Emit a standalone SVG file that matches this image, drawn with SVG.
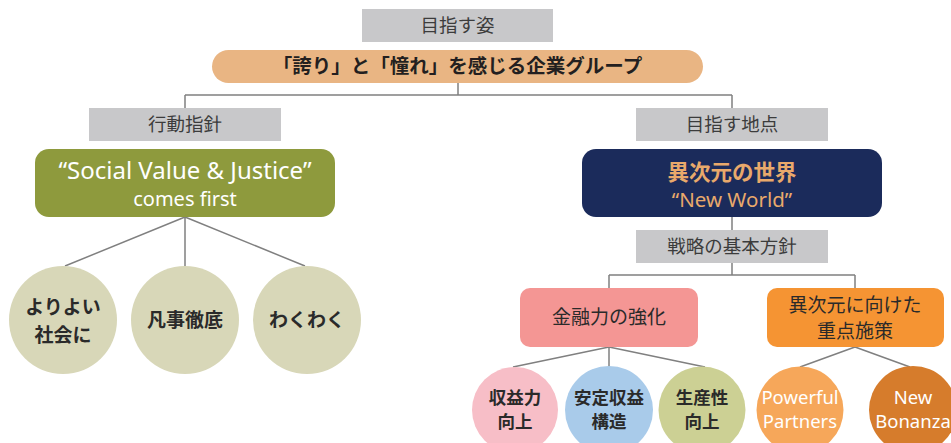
<svg xmlns="http://www.w3.org/2000/svg" width="951" height="443" viewBox="0 0 951 443">
<style>
.jp{font-family:"Noto Sans CJK JP","Noto Sans",sans-serif}
.lat{font-family:"Noto Sans","Noto Sans CJK JP",sans-serif}
.lbl{fill:#c8c8ca}
.lbltx{font-size:18.5px;fill:#3c3c3c;text-anchor:middle}
.ctx{font-size:19px;font-weight:bold;fill:#2a2a2a;text-anchor:middle}
.stx{font-size:17.5px;font-weight:bold;fill:#2a2a2a;text-anchor:middle}
.wtx{font-size:18.5px;fill:#ffffff;text-anchor:middle}
.btx{font-size:19px;fill:#2a2a2a;text-anchor:middle}
.conn{stroke:#808080;stroke-width:1.5;fill:none}
</style>
<rect width="951" height="443" fill="#ffffff"/>
<g id="connectors">
<path class="conn" d="M458 83V95M185 95H732M185 95V108M732 95V108"/>
<path class="conn" d="M185 217L65 266M185 217V266M185 217L305 266"/>
<path class="conn" d="M732 217V230M732 263V275M609 275H855M609 275V288M855 275V288"/>
<path class="conn" d="M609 347L513 367M609 347V367M609 347L705 367M855 347L800 367M855 347L910 367"/>
</g>
<g id="label-mezasu-sugata">
<rect class="lbl" x="362" y="9" width="191" height="33"/>
<text class="jp lbltx" x="457.5" y="32">目指す姿</text>
</g>
<g id="vision">
<rect x="212" y="50" width="491" height="33" rx="16.5" fill="#e9b583"/>
<text class="jp" x="457.5" y="73" font-size="19.5" font-weight="bold" fill="#231f20" text-anchor="middle">「誇り」と「憧れ」を感じる企業グループ</text>
</g>
<g id="label-kodo-shishin">
<rect class="lbl" x="89" y="108" width="192" height="33"/>
<text class="jp lbltx" x="185" y="131">行動指針</text>
</g>
<g id="social-value">
<rect x="35" y="149" width="300" height="68" rx="14" fill="#8e9a3d"/>
<text class="lat" x="185" y="179" font-size="24" fill="#ffffff" text-anchor="middle">“Social Value &amp; Justice”</text>
<text class="lat" x="185" y="206" font-size="20" fill="#ffffff" text-anchor="middle">comes first</text>
</g>
<g id="label-mezasu-chiten">
<rect class="lbl" x="636" y="108" width="192" height="33"/>
<text class="jp lbltx" x="732" y="131">目指す地点</text>
</g>
<g id="new-world">
<rect x="582" y="149" width="300" height="68" rx="14" fill="#1b2b5b"/>
<text class="jp" x="732" y="180" font-size="21.5" font-weight="bold" fill="#e9a96b" text-anchor="middle">異次元の世界</text>
<text class="lat" x="732" y="207" font-size="20.5" fill="#e9a96b" text-anchor="middle">“New World”</text>
</g>
<g id="label-senryaku">
<rect class="lbl" x="636" y="230" width="192" height="33"/>
<text class="jp lbltx" x="732" y="253">戦略の基本方針</text>
</g>
<g id="kinyu">
<rect x="520" y="288" width="178" height="59" rx="10" fill="#f49694"/>
<text class="jp btx" x="609" y="324">金融力の強化</text>
</g>
<g id="juten">
<rect x="767" y="288" width="177" height="59" rx="10" fill="#f59433"/>
<text class="jp btx" x="855" y="312" font-size="18.5">異次元に向けた</text>
<text class="jp btx" x="855" y="338" font-size="18.5">重点施策</text>
</g>
<g id="yoriyoi">
<circle cx="63" cy="320" r="54" fill="#d8d7b8"/>
<text class="jp ctx" x="63" y="314">よりよい</text>
<text class="jp ctx" x="63" y="342">社会に</text>
</g>
<g id="bonji">
<circle cx="185" cy="320" r="54" fill="#d8d7b8"/>
<text class="jp ctx" x="185" y="327">凡事徹底</text>
</g>
<g id="wakuwaku">
<circle cx="307" cy="320" r="54" fill="#d8d7b8"/>
<text class="jp ctx" x="307" y="327">わくわく</text>
</g>
<g id="shueki">
<circle cx="515" cy="410" r="43" fill="#f7bec7"/>
<text class="jp stx" x="515" y="404">収益力</text>
<text class="jp stx" x="515" y="428">向上</text>
</g>
<g id="antei">
<circle cx="609" cy="410" r="44" fill="#a9cbea"/>
<text class="jp stx" x="609" y="404">安定収益</text>
<text class="jp stx" x="609" y="428">構造</text>
</g>
<g id="seisansei">
<circle cx="702" cy="410" r="43.5" fill="#ccd094"/>
<text class="jp stx" x="702" y="404">生産性</text>
<text class="jp stx" x="702" y="428">向上</text>
</g>
<g id="powerful">
<circle cx="800" cy="410" r="43.5" fill="#f6a75a"/>
<text class="lat wtx" x="800" y="404">Powerful</text>
<text class="lat wtx" x="800" y="428">Partners</text>
</g>
<g id="bonanza">
<circle cx="913" cy="410" r="44" fill="#d67c2c"/>
<text class="lat wtx" x="913" y="404">New</text>
<text class="lat wtx" x="913" y="428">Bonanza</text>
</g>
</svg>
